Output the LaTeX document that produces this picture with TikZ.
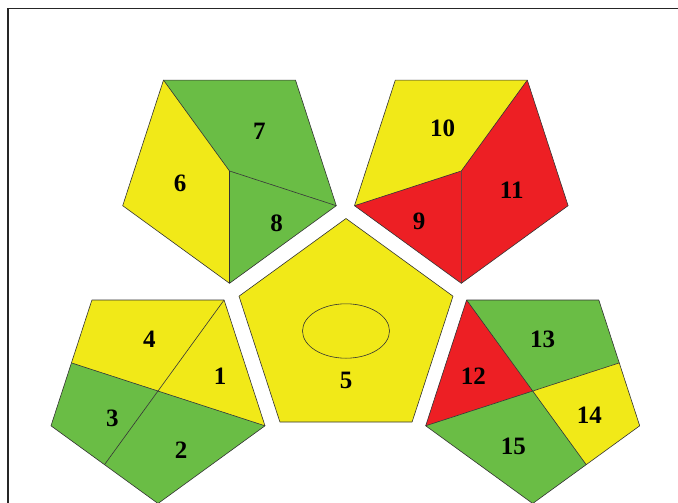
\documentclass[tikz,border=0pt]{standalone}
\usepackage{fontspec}
\setmainfont{Liberation Serif}
\usetikzlibrary{calc}
\definecolor{giallo}{HTML}{F1E918}
\definecolor{verde}{HTML}{6ABD45}
\definecolor{rosso}{HTML}{ED1F24}

\begin{document}
\begin{tikzpicture}[
    x=1pt, y=-1pt,
    fc/.style={draw=black!80, line width=0.6pt, line join=round},
    num/.style={font=\fontsize{25}{25}\selectfont\bfseries, inner sep=0pt},
  ]
  \useasboundingbox (0,0) rectangle (678,503);

  % --- cornice appena accennata
  \draw[black!85, line width=1.6pt] (8,503) -- (8,8.5) -- (678,8.5);

  % --- faccia in alto a sinistra: 6, 7, 8 ---
  \coordinate (a-tl) at (163.5,80.1);
  \coordinate (a-tr) at (295.5,80.1);
  \coordinate (a-r)  at (336.3,205.7);
  \coordinate (a-b)  at (229.5,283.3);
  \coordinate (a-l)  at (122.7,205.7);
  \coordinate (a-c)  at (229.5,171.0);
  \fill[giallo] (a-tl) -- (a-c) -- (a-b) -- (a-l) -- cycle;
  \fill[verde]  (a-tl) -- (a-tr) -- (a-r) -- (a-c) -- cycle;
  \fill[verde]  (a-c) -- (a-r) -- (a-b) -- cycle;
  \draw[fc] (a-tl) -- (a-tr) -- (a-r) -- (a-b) -- (a-l) -- cycle;
  \draw[fc] (a-tl) -- (a-c) -- (a-b) (a-c) -- (a-r);
  \node[num] (n6) at (180.0,183.3) {6};
  \node[num] (n7) at (259.3,131.0) {7};
  \node[num] (n8) at (276.7,223.3) {8};

  % --- faccia in alto a destra: 9, 10, 11 ---
  \coordinate (b-tl) at (395.3,80.1);
  \coordinate (b-tr) at (527.3,80.1);
  \coordinate (b-r)  at (568.1,205.7);
  \coordinate (b-b)  at (461.3,283.3);
  \coordinate (b-l)  at (354.5,205.7);
  \coordinate (b-c)  at (461.3,171.0);
  \fill[giallo] (b-tl) -- (b-tr) -- (b-c) -- (b-l) -- cycle;
  \fill[rosso]  (b-tr) -- (b-r) -- (b-b) -- (b-c) -- cycle;
  \fill[rosso]  (b-l) -- (b-c) -- (b-b) -- cycle;
  \draw[fc] (b-tl) -- (b-tr) -- (b-r) -- (b-b) -- (b-l) -- cycle;
  \draw[fc] (b-tr) -- (b-c) -- (b-b) (b-c) -- (b-l);
  \node[num] (n9)  at (419.0,221.7) {9};
  \node[num] (n10) at (442.7,128.0) {10};
  \node[num] (n11) at (511.7,190.0) {11};

  % --- faccia centrale: 5 ---
  \coordinate (c-t)  at (346.0,218.5);
  \coordinate (c-ur) at (453.0,296.2);
  \coordinate (c-lr) at (412.1,422.0);
  \coordinate (c-ll) at (279.9,422.0);
  \coordinate (c-ul) at (239.0,296.2);
  \draw[fc, fill=giallo] (c-t) -- (c-ur) -- (c-lr) -- (c-ll) -- (c-ul) -- cycle;
  \draw[black!80, line width=0.6pt] (346,331) ellipse [x radius=43.5, y radius=27.2];
  \node[num] (n5) at (346.0,380.0) {5};

  % --- faccia in basso a sinistra: 1, 2, 3, 4 ---
  \coordinate (d-tl) at (91.9,300.0);
  \coordinate (d-tr) at (224.1,300.0);
  \coordinate (d-r)  at (265.0,425.8);
  \coordinate (d-b)  at (158.0,503.5);
  \coordinate (d-l)  at (51.0,425.8);
  \coordinate (d-c)  at (158.0,391.0);
  \coordinate (d-m1) at ($(d-tl)!0.5!(d-l)$);
  \coordinate (d-m2) at ($(d-l)!0.5!(d-b)$);
  \fill[giallo] (d-tl) -- (d-tr) -- (d-c) -- (d-m1) -- cycle;
  \fill[giallo] (d-tr) -- (d-r) -- (d-c) -- cycle;
  \fill[verde]  (d-c) -- (d-r) -- (d-b) -- (d-m2) -- cycle;
  \fill[verde]  (d-m1) -- (d-c) -- (d-m2) -- (d-l) -- cycle;
  \draw[fc] (d-tl) -- (d-tr) -- (d-r) -- (d-b) -- (d-l) -- cycle;
  \draw[fc] (d-tr) -- (d-m2) (d-m1) -- (d-r);
  \node[num] (n1) at (220.0,376.0) {1};
  \node[num] (n2) at (181.0,450.0) {2};
  \node[num] (n3) at (112.3,418.3) {3};
  \node[num] (n4) at (149.3,339.3) {4};

  % --- faccia in basso a destra: 12, 13, 14, 15 ---
  \coordinate (e-tl) at (466.6,300.0);
  \coordinate (e-tr) at (598.8,300.0);
  \coordinate (e-r)  at (639.7,425.8);
  \coordinate (e-b)  at (532.7,503.5);
  \coordinate (e-l)  at (425.7,425.8);
  \coordinate (e-c)  at (532.7,391.0);
  \coordinate (e-m1) at ($(e-tr)!0.5!(e-r)$);
  \coordinate (e-m2) at ($(e-r)!0.5!(e-b)$);
  \fill[rosso]  (e-tl) -- (e-c) -- (e-l) -- cycle;
  \fill[verde]  (e-tl) -- (e-tr) -- (e-m1) -- (e-c) -- cycle;
  \fill[giallo] (e-c) -- (e-m1) -- (e-r) -- (e-m2) -- cycle;
  \fill[verde]  (e-l) -- (e-c) -- (e-m2) -- (e-b) -- cycle;
  \draw[fc] (e-tl) -- (e-tr) -- (e-r) -- (e-b) -- (e-l) -- cycle;
  \draw[fc] (e-tl) -- (e-m2) (e-l) -- (e-m1);
  \node[num] (n12) at (473.3,376.7) {12};
  \node[num] (n13) at (542.7,339.3) {13};
  \node[num] (n14) at (589.3,415.0) {14};
  \node[num] (n15) at (513.3,446.7) {15};

\end{tikzpicture}
\end{document}
